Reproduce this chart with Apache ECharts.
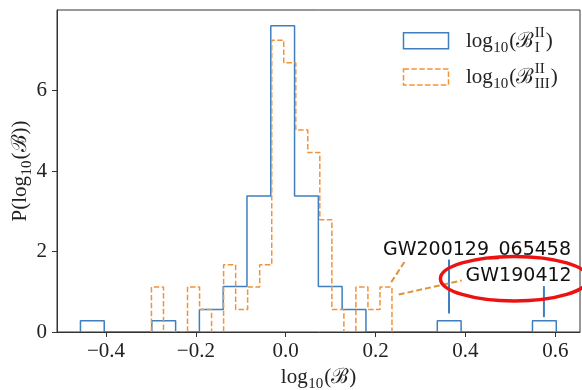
<!DOCTYPE html>
<html><head><meta charset="utf-8">
<script src="https://cdn.jsdelivr.net/npm/echarts@6/dist/echarts.min.js"></script>
<style>html,body{margin:0;padding:0;background:#fff}#c{width:582px;height:390px}</style>
</head><body><div id="c"></div>
<script>
// ---- data ----
const blueEdges = [-0.4568,-0.4039,-0.3509,-0.2980,-0.2450,-0.1921,-0.1391,-0.0862,-0.0332,0.0197,
  0.0727,0.1256,0.1786,0.2315,0.2845,0.3374,0.3904,0.4433,0.4963,0.5492,0.6022];
const blueDensity = [0.28,0,0,0.28,0,0.56,1.13,3.38,7.61,3.38,1.13,0.56,0,0,0,0.28,0,0,0,0.28];
const orangeEdges = [-0.2988,-0.2720,-0.2453,-0.2185,-0.1917,-0.1650,-0.1382,-0.1114,-0.0847,-0.0579,
  -0.0311,-0.0044,0.0224,0.0492,0.0759,0.1027,0.1295,0.1562,0.1830,0.2098,0.2365];
const orangeDensity = [1.12,0,0,1.12,0.56,0,1.67,0.56,1.12,1.67,7.25,6.69,5.02,4.46,2.79,0.56,0,1.12,0.56,1.12];
const xTicks = [-0.4,-0.2,0,0.2,0.4,0.6];
const yTicks = [0,2,4,6];
const eventNames = ['GW200129_065458','GW190412'];
const eventTextPos = [[0.2165,2.04],[0.4004,1.38]];
const markerX = [0.3635,0.5747];
const markerTop = [1.80,1.14];
const markerBottom = [0.46,0.37];
const pointerLines = [[[0.2349,1.24],[0.268,1.80]],[[0.2514,0.93],[0.3918,1.28]]];
const ellipseCenter = [0.509,1.325];
const ellipseRadius = [0.1646,0.553];

const BLUE = '#3f7fbf', ORANGE = '#f39237', ANN = '#dd9538';
const SERIF = '"Liberation Serif","DejaVu Serif",serif';
const SANS = '"DejaVu Sans",sans-serif';

function stepPoints(edges, vals){
  const pts=[[edges[0],0]];
  for(let i=0;i<vals.length;i++){pts.push([edges[i],vals[i]]);pts.push([edges[i+1],vals[i]]);}
  pts.push([edges[edges.length-1],0]);
  return pts;
}
const chart = echarts.init(document.getElementById('c'),null,{renderer:'canvas'});
const series = [
  {type:'line',data:stepPoints(blueEdges,blueDensity),symbol:'none',lineStyle:{color:BLUE,width:1.5},z:2},
  {type:'line',data:stepPoints(orangeEdges,orangeDensity),symbol:'none',lineStyle:{color:ORANGE,width:1.5,type:[5.5,2.4]},z:3}
];
markerX.forEach((x,i)=>series.push({type:'line',data:[[x,markerBottom[i]],[x,markerTop[i]]],symbol:'none',lineStyle:{color:BLUE,width:2},z:3}));
pointerLines.forEach(l=>series.push({type:'line',data:l,symbol:'none',lineStyle:{color:ANN,width:2,type:[6,3]},z:3}));

const fmtX = v => { const a=Math.abs(v).toFixed(1); return v<-1e-9?'\u2212'+a:a; };
chart.setOption({
  animation:false,
  grid:{left:57,right:2,top:10,bottom:58,show:true,borderColor:'#333',borderWidth:1,backgroundColor:'transparent'},
  xAxis:{type:'value',min:-0.509,max:0.655,z:5,
    axisLine:{show:true,onZero:false,lineStyle:{color:'#333',width:1}},
    axisTick:{show:true,inside:false,length:5,customValues:xTicks,lineStyle:{color:'#333'}},
    axisLabel:{customValues:xTicks,formatter:fmtX,margin:9,fontFamily:SERIF,fontSize:21,color:'#222'},
    splitLine:{show:false}},
  yAxis:{type:'value',min:0,max:8.0,z:5,
    axisLine:{show:true,onZero:false,lineStyle:{color:'#333',width:1}},
    axisTick:{show:true,inside:false,length:5,customValues:yTicks,lineStyle:{color:'#333'}},
    axisLabel:{customValues:yTicks,formatter:v=>String(v),margin:10,fontFamily:SERIF,fontSize:21,color:'#222'},
    splitLine:{show:false}},
  series
});

// ---- math-like text builder ----
const ctx = document.createElement('canvas').getContext('2d');
function tw(t,size,fam){ctx.font=size+'px '+fam;return ctx.measureText(t).width;}
function txt(t,x,y,size,fam){return {type:'text',x:x,y:y,style:{text:t,fontSize:size,fontFamily:fam,fill:'#222',verticalAlign:'middle',align:'left'}};}
function mathText(parts,S,center){
  const s2=Math.round(S*0.7); let x=0; const kids=[];
  for(const p of parts){
    if(p.t!==undefined){kids.push(txt(p.t,x,0,S,SERIF));x+=tw(p.t,S,SERIF);}
    else{let w=0;
      if(p.sup){kids.push(txt(p.sup,x+0.5,-0.36*S,s2,SERIF));w=Math.max(w,tw(p.sup,s2,SERIF));}
      if(p.sub){kids.push(txt(p.sub,x+0.5,0.33*S,s2,SERIF));w=Math.max(w,tw(p.sub,s2,SERIF));}
      x+=w+1.5;}
  }
  if(center) kids.forEach(k=>k.x-=x/2);
  return kids;
}
const legendLabels = [
  [{t:'log'},{sub:'10'},{t:'(\u212C'},{sup:'II',sub:'I'},{t:')'}],
  [{t:'log'},{sub:'10'},{t:'(\u212C'},{sup:'II',sub:'III'},{t:')'}]
];
const xName = [{t:'log'},{sub:'10'},{t:'(\u212C)'}];
const yName = [{t:'P(log'},{sub:'10'},{t:'(\u212C))'}];

const P = d => chart.convertToPixel({gridIndex:0},d);
const graphic = [];
// legend
graphic.push({type:'rect',shape:{x:403.5,y:32.7,width:45,height:16},style:{fill:'none',stroke:BLUE,lineWidth:1.5},z:10});
graphic.push({type:'rect',shape:{x:403.5,y:69,width:45,height:16},style:{fill:'none',stroke:ORANGE,lineWidth:1.5,lineDash:[5.5,2.4]},z:10});
graphic.push({type:'group',x:466,y:41,children:mathText(legendLabels[0],21,false),z:10});
graphic.push({type:'group',x:466,y:77,children:mathText(legendLabels[1],21,false),z:10});
// axis names
graphic.push({type:'group',x:318.5,y:377,children:mathText(xName,21,true),z:10});
graphic.push({type:'group',x:20,y:171,rotation:Math.PI/2,children:mathText(yName,21,true),z:10});
// event labels
eventNames.forEach((n,i)=>{const p=P(eventTextPos[i]);
  graphic.push({type:'text',x:p[0],y:p[1],style:{text:n,fontSize:19,fontFamily:SANS,fill:'#111',verticalAlign:'middle',align:'left'},z:10});});
// red ellipse
const c=P(ellipseCenter), ex=P([ellipseCenter[0]+ellipseRadius[0],ellipseCenter[1]]), ey=P([ellipseCenter[0],ellipseCenter[1]+ellipseRadius[1]]);
graphic.push({type:'ellipse',shape:{cx:c[0],cy:c[1],rx:Math.abs(ex[0]-c[0]),ry:Math.abs(c[1]-ey[1])},style:{fill:'none',stroke:'#ee1111',lineWidth:3.5},z:20});
chart.setOption({graphic});
</script></body></html>
